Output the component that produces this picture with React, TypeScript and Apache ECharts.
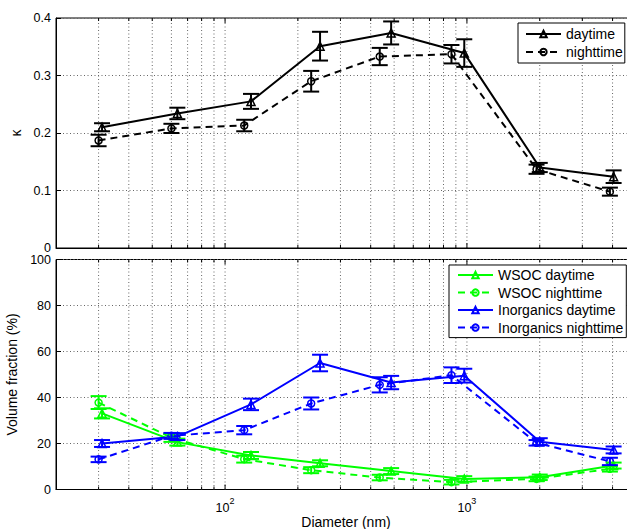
import React, { useEffect, useRef } from "react";
import * as echarts from "echarts";

// Diameter (nm) of each size bin, slightly offset between day and night
const dayX = [31, 63.5, 128, 247, 486, 975, 2000, 4040];
const nightX = [30, 60, 120, 227, 436, 863, 1940, 3900];

// Hygroscopicity kappa
const kappaDay = [0.21, 0.234, 0.255, 0.351, 0.374, 0.339, 0.14, 0.124];
const kappaDayErr = [0.007, 0.01, 0.013, 0.025, 0.02, 0.024, 0.008, 0.011];
const kappaNight = [0.187, 0.208, 0.213, 0.29, 0.333, 0.337, 0.137, 0.098];
const kappaNightErr = [0.01, 0.008, 0.01, 0.018, 0.015, 0.016, 0.008, 0.007];

// Volume fractions (%)
const wsocDay = [33.1, 20.6, 14.8, 11.4, 8.0, 4.6, 5.3, 10.4];
const wsocDayErr = [2.2, 1.5, 1.5, 1.3, 1.3, 1.2, 1.2, 1.3];
const wsocNight = [37.8, 22.5, 13.2, 8.4, 5.2, 3.2, 4.6, 9.0];
const wsocNightErr = [2.8, 1.8, 1.5, 1.3, 1.2, 1.0, 1.0, 1.2];
const inorgDay = [20.0, 23.0, 37.0, 55.0, 46.5, 49.5, 20.8, 17.2];
const inorgDayErr = [1.5, 1.5, 2.5, 3.6, 2.9, 3.0, 1.5, 1.5];
const inorgNight = [13.1, 23.3, 25.8, 37.4, 45.5, 49.7, 20.3, 12.2];
const inorgNightErr = [1.2, 1.3, 1.8, 2.6, 3.3, 3.4, 1.2, 1.6];

// grid line positions on the log axis
const gridX = [30, 40, 50, 60, 70, 80, 90, 100, 200, 300, 400, 500, 600, 700, 800, 900, 1000, 2000, 3000, 4000];

const FONT = "Liberation Sans, Arial, sans-serif";
const GREEN = "#00ff00";
const BLUE = "#0000ff";
const BLACK = "#000000";

const isMajor = (x: number) => {
  const p = Math.log10(x);
  return Math.abs(p - Math.round(p)) < 1e-6;
};

const gridSeries = (xi: number, yi: number, yMin: number, yMax: number) => ({
  type: "custom",
  xAxisIndex: xi,
  yAxisIndex: yi,
  silent: true,
  z: 1,
  clip: false,
  data: gridX.map((x) => [x, yMin]),
  renderItem: (params: any, api: any) => {
    const x = api.value(0);
    const p0 = api.coord([x, yMin]);
    const p1 = api.coord([x, yMax]);
    const len = isMajor(x) ? 5 : 3;
    return {
      type: "group",
      children: [
        {
          type: "line",
          shape: { x1: p0[0], y1: p0[1], x2: p1[0], y2: p1[1] },
          style: { stroke: "#666", lineWidth: 1, lineDash: [1, 2.5] },
        },
        {
          type: "line",
          shape: { x1: p0[0], y1: p0[1], x2: p0[0], y2: p0[1] - len },
          style: { stroke: BLACK, lineWidth: 1 },
        },
        {
          type: "line",
          shape: { x1: p1[0], y1: p1[1], x2: p1[0], y2: p1[1] + len },
          style: { stroke: BLACK, lineWidth: 1 },
        },
      ],
    };
  },
});

const lineSeries = (
  name: string,
  xs: number[],
  ys: number[],
  color: string,
  dashed: boolean,
  symbol: string,
  xi: number,
  yi: number
) => ({
  type: "line",
  name,
  xAxisIndex: xi,
  yAxisIndex: yi,
  z: 3,
  data: xs.map((x, i) => [x, ys[i]]),
  symbol,
  symbolSize: symbol === "triangle" ? 8 : 7,
  showSymbol: true,
  lineStyle: { color, width: 2, type: dashed ? [7, 5] : "solid" },
  itemStyle: { color: "rgba(0,0,0,0)", borderColor: color, borderWidth: 1.5 },
  emphasis: { disabled: true },
});

const errSeries = (
  xs: number[],
  ys: number[],
  es: number[],
  color: string,
  xi: number,
  yi: number
) => ({
  type: "custom",
  xAxisIndex: xi,
  yAxisIndex: yi,
  silent: true,
  z: 4,
  clip: false,
  dimensions: ["x", "y", "e"],
  encode: { x: 0, y: 1 },
  data: xs.map((x, i) => [x, ys[i], es[i]]),
  renderItem: (params: any, api: any) => {
    const x = api.value(0);
    const y = api.value(1);
    const e = api.value(2);
    const a = api.coord([x, y + e]);
    const b = api.coord([x, y - e]);
    const h = 8;
    const st = { stroke: color, lineWidth: 2 };
    return {
      type: "group",
      children: [
        { type: "line", shape: { x1: a[0], y1: a[1], x2: b[0], y2: b[1] }, style: st },
        { type: "line", shape: { x1: a[0] - h, y1: a[1], x2: a[0] + h, y2: a[1] }, style: st },
        { type: "line", shape: { x1: b[0] - h, y1: b[1], x2: b[0] + h, y2: b[1] }, style: st },
      ],
    };
  },
});

const xAxisCfg = (gridIndex: number, showLabels: boolean) => ({
  type: "log",
  logBase: 10,
  gridIndex,
  min: 20,
  max: 5000,
  axisLine: { show: true, lineStyle: { color: BLACK, width: 1 } },
  axisTick: { show: false },
  splitLine: { show: false },
  axisLabel: showLabels
    ? {
        show: true,
        margin: 7,
        fontSize: 12.5,
        fontFamily: FONT,
        color: BLACK,
        formatter: (v: number) => {
          const p = Math.log10(v);
          if (Math.abs(p - Math.round(p)) > 1e-6) return "";
          const r = Math.round(p);
          if (r === 2 || r === 3) return "{b|10}{s|" + r + "}";
          return "";
        },
        rich: {
          b: { fontSize: 12.5, fontFamily: FONT, color: BLACK, lineHeight: 18, verticalAlign: "bottom" },
          s: { fontSize: 9, fontFamily: FONT, color: BLACK, lineHeight: 10, verticalAlign: "top" },
        },
      }
    : { show: false },
  name: showLabels ? "Diameter (nm)" : "",
  nameLocation: "middle",
  nameGap: 22,
  nameTextStyle: { fontSize: 14, fontFamily: FONT, color: BLACK },
});

const yAxisCfg = (
  gridIndex: number,
  max: number,
  interval: number,
  name: string,
  nameGap: number
) => ({
  type: "value",
  gridIndex,
  min: 0,
  max,
  interval,
  axisLine: { show: true, lineStyle: { color: BLACK, width: 1 } },
  axisTick: { show: true, inside: true, length: 5, lineStyle: { color: BLACK } },
  axisLabel: { fontSize: 12.5, fontFamily: FONT, color: BLACK, margin: 5 },
  splitLine: { show: true, lineStyle: { color: "#666", width: 1, type: [1, 2.5] } },
  name,
  nameLocation: "middle",
  nameGap,
  nameTextStyle: { fontSize: 14, fontFamily: FONT, color: BLACK },
});

const legendCfg = (names: string[], left: number, top: number, lineHeight: number, padding: number[]) => ({
  data: names,
  orient: "vertical",
  left,
  top,
  itemWidth: 35,
  itemHeight: 8,
  itemGap: 1,
  padding,
  borderColor: BLACK,
  borderWidth: 1,
  borderRadius: 0,
  backgroundColor: "#fff",
  selectedMode: false,
  textStyle: { fontSize: 14, fontFamily: FONT, color: BLACK, lineHeight },
});

const gridCfg = (top: number) => ({
  left: 56,
  top,
  width: 580,
  height: 230,
  show: true,
  borderColor: BLACK,
  borderWidth: 1,
  backgroundColor: "transparent",
  containLabel: false,
  outerBoundsMode: "none",
});

export default function App() {
  const ref = useRef<HTMLDivElement>(null);
  useEffect(() => {
    if (!ref.current) return;
    const chart = echarts.init(ref.current, undefined, { renderer: "svg" });
    chart.setOption({
      animation: false,
      backgroundColor: "#fff",
      textStyle: { fontFamily: FONT },
      grid: [gridCfg(18), gridCfg(259.5)],
      xAxis: [xAxisCfg(0, false), xAxisCfg(1, true)],
      yAxis: [yAxisCfg(0, 0.4, 0.1, "κ", 29), yAxisCfg(1, 100, 20, "Volume fraction (%)", 28)],
      legend: [
        legendCfg(["daytime", "nighttime"], 518, 23, 17, [2.5, 2, 2.5, 7]),
        legendCfg(
          ["WSOC daytime", "WSOC nighttime", "Inorganics daytime", "Inorganics nighttime"],
          449,
          265,
          16.5,
          [1.8, 3, 1.8, 8]
        ),
      ],
      series: [
        gridSeries(0, 0, 0, 0.4),
        gridSeries(1, 1, 0, 100),
        lineSeries("daytime", dayX, kappaDay, BLACK, false, "triangle", 0, 0),
        lineSeries("nighttime", nightX, kappaNight, BLACK, true, "circle", 0, 0),
        errSeries(dayX, kappaDay, kappaDayErr, BLACK, 0, 0),
        errSeries(nightX, kappaNight, kappaNightErr, BLACK, 0, 0),
        lineSeries("WSOC daytime", dayX, wsocDay, GREEN, false, "triangle", 1, 1),
        lineSeries("WSOC nighttime", nightX, wsocNight, GREEN, true, "circle", 1, 1),
        lineSeries("Inorganics daytime", dayX, inorgDay, BLUE, false, "triangle", 1, 1),
        lineSeries("Inorganics nighttime", nightX, inorgNight, BLUE, true, "circle", 1, 1),
        errSeries(dayX, wsocDay, wsocDayErr, GREEN, 1, 1),
        errSeries(nightX, wsocNight, wsocNightErr, GREEN, 1, 1),
        errSeries(dayX, inorgDay, inorgDayErr, BLUE, 1, 1),
        errSeries(nightX, inorgNight, inorgNightErr, BLUE, 1, 1),
      ],
    });
    return () => chart.dispose();
  }, []);
  return (
    <div
      ref={ref}
      style={{ position: "absolute", left: 0, top: 0, width: 627, height: 529, background: "#fff" }}
    />
  );
}
